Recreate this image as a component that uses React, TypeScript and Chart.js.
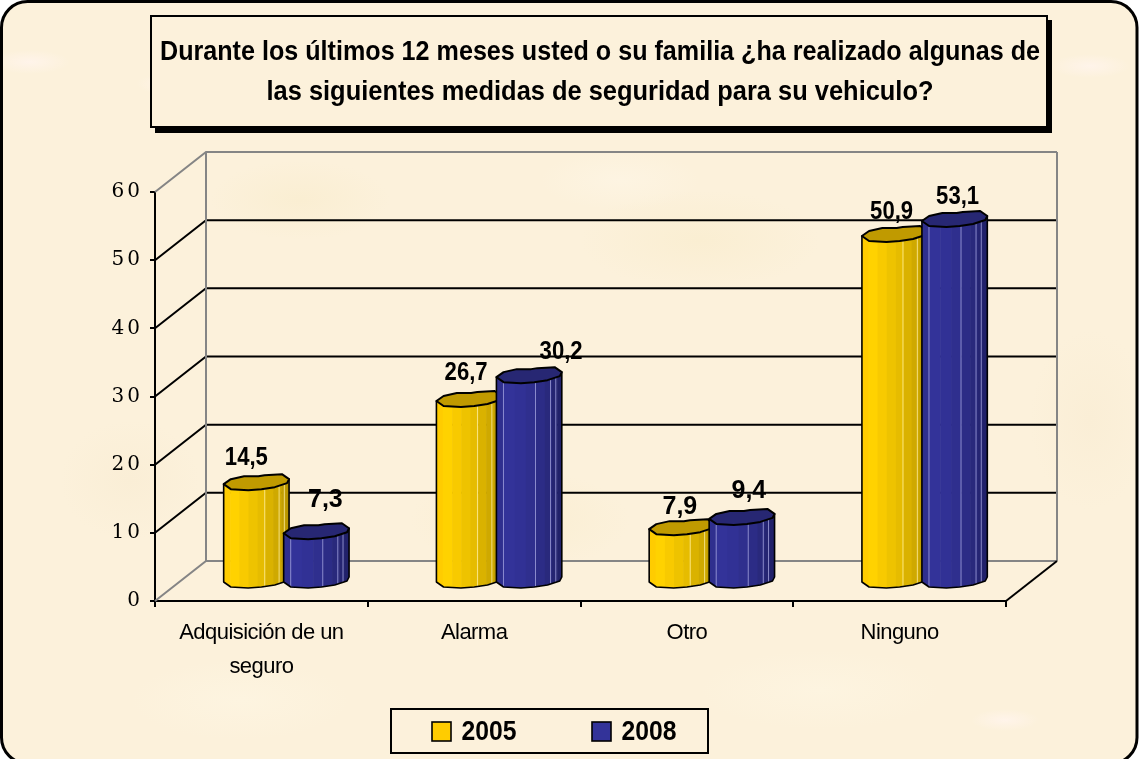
import React, { useEffect, useRef } from "react";
import { Chart, registerables } from "chart.js";

Chart.register(...registerables);

const categories = [["Adquisición de un", "seguro"], "Alarma", "Otro", "Ninguno"];
const seriesNames = ["2005", "2008"];
const values2005 = [14.5, 26.7, 7.9, 50.9];
const values2008 = [7.3, 30.2, 9.4, 53.1];
const seriesColors = ["#FFCC00", "#333399"];
const titleLines = [
  "Durante los últimos 12 meses usted o su familia ¿ha realizado algunas de",
  "las siguientes medidas de seguridad para su vehiculo?",
];

const SANS = '"Liberation Sans", Arial, sans-serif';
const DEPTH_X = 51;
const DEPTH_Y = 40;
const GREY = "#858585";

const stripes = [
  [[0, "#FFCC00"], [0.1, "#FFD200"], [0.24, "#F8CA00"], [0.38, "#EEC300"], [0.52, "#E6BC00"], [0.64, "#DAB200"], [0.76, "#CFA900"], [0.88, "#C29E00"], [0.95, "#B89500"]],
  [[0, "#2F2F8E"], [0.1, "#333399"], [0.28, "#313195"], [0.45, "#2F2F8E"], [0.6, "#2C2C86"], [0.74, "#29297C"], [0.85, "#252572"], [0.93, "#21216A"]],
] as [number, string][][];
const highlights = [
  [0.62, 0.84, 0.92],
  [0.1, 0.59, 0.82, 0.9],
];
const lidColors = ["#C09A00", "#272773"];
const lidBack = [[-25, -3], [-12, -6], [2, -6], [8, -7], [25, -8], [32, -3]];
const rimFront = [[32, -3], [30, 1], [18, 5], [5, 7], [-8, 8], [-25, 7], [-32, 2]];
const labelNudges = [
  [[-10, -24], [-3, -26], [-2, -20], [-3, -22]],
  [[9, -31], [32, -23], [7, -26], [3, -22]],
];
const blotches = [
  [30, 62, 40, 12, "#FFF4EA"], [172, 84, 36, 11, "#FFF4EA"], [1090, 66, 40, 12, "#FFF4EA"],
  [1005, 720, 34, 11, "#FFF4EA"], [300, 200, 90, 40, "#FAEED2"], [700, 240, 120, 50, "#FAEED2"],
  [520, 520, 110, 50, "#FAEED2"], [130, 480, 70, 60, "#FAEED6"], [1090, 420, 60, 90, "#FAEED6"],
  [820, 690, 120, 40, "#FDF4E0"], [240, 700, 110, 40, "#FDF4E0"], [620, 180, 80, 30, "#FDF4E2"],
] as [number, number, number, number, string][];

function fittedText(ctx: any, text: string, cx: number, cy: number, font: string, width: number) {
  ctx.font = font;
  ctx.fillStyle = "#000";
  ctx.textAlign = "center";
  ctx.textBaseline = "middle";
  ctx.fillText(text, cx, cy, width);
}

function line(ctx: any, pts: number[][], color: string, w = 2) {
  ctx.beginPath();
  pts.forEach((p, i) => (i ? ctx.lineTo(p[0], p[1]) : ctx.moveTo(p[0], p[1])));
  ctx.strokeStyle = color;
  ctx.lineWidth = w;
  ctx.stroke();
}

function drawCylinder(ctx: any, el: any, series: number) {
  const k = (el.width * 1.09) / 2 / 32;
  const cx = el.x + DEPTH_X * 0.49;
  const top = el.y - DEPTH_Y / 2;
  const bottom = el.base - DEPTH_Y / 2;
  const at = (p: number[], y: number) => [cx + p[0] * k, y + p[1]];

  ctx.save();
  const a = at([-32, 2], top);
  const b = at([-32, 2], bottom);
  const c = at([32, -3], top);
  const body = new Path2D();
  body.moveTo(a[0], a[1]);
  body.lineTo(b[0], b[1]);
  [...rimFront].reverse().forEach((p) => {
    const q = at(p, bottom);
    body.lineTo(q[0], q[1]);
  });
  body.lineTo(c[0], c[1]);
  body.closePath();
  ctx.save();
  ctx.clip(body);
  const left = cx - 32 * k;
  const full = 64 * k;
  stripes[series].forEach(([f, col], i) => {
    const next = i + 1 < stripes[series].length ? stripes[series][i + 1][0] : 1;
    ctx.fillStyle = col;
    ctx.fillRect(left + f * full, top - 12, (next - f) * full + 0.6, bottom - top + 30);
  });
  ctx.fillStyle = series ? "rgba(170,170,225,0.75)" : "rgba(255,240,170,0.75)";
  highlights[series].forEach((f) => ctx.fillRect(left + f * full, top - 12, 1, bottom - top + 30));
  ctx.restore();
  ctx.lineJoin = "round";
  ctx.strokeStyle = "#000";
  ctx.lineWidth = 1.6;
  ctx.stroke(body);

  ctx.beginPath();
  const first = at([-32, 2], top);
  ctx.moveTo(first[0], first[1]);
  [...lidBack, ...rimFront].forEach((p) => {
    const q = at(p, top);
    ctx.lineTo(q[0], q[1]);
  });
  ctx.closePath();
  ctx.fillStyle = lidColors[series];
  ctx.fill();
  ctx.lineWidth = 2;
  ctx.stroke();
  ctx.restore();
}

function spaceLabels(ctx: any, scale: any, spacing: string) {
  const original = scale.drawLabels;
  if (scale.__spaced) return;
  scale.__spaced = true;
  scale.drawLabels = function (area: any) {
    ctx.save();
    ctx.letterSpacing = spacing;
    original.call(scale, area);
    ctx.restore();
  };
}

const scenery = {
  id: "scenery",
  beforeDraw(chart: any) {
    const { ctx } = chart;
    spaceLabels(ctx, chart.scales.x, "-0.55px");
    spaceLabels(ctx, chart.scales.y, "3px");
    ctx.save();
    ctx.fillStyle = "#FFFFFF";
    ctx.fillRect(0, 0, 1139, 759);
    const frame = new Path2D();
    frame.roundRect(1.5, 1.5, 1135.5, 762, 26);
    ctx.save();
    ctx.clip(frame);
    ctx.fillStyle = "#FCF1DB";
    ctx.fillRect(0, 0, 1139, 759);
    blotches.forEach(([x, y, rx, ry, col]) => {
      ctx.save();
      ctx.translate(x, y);
      ctx.scale(rx, ry);
      const g = ctx.createRadialGradient(0, 0, 0, 0, 0, 1);
      g.addColorStop(0, col);
      g.addColorStop(1, col + "00");
      ctx.fillStyle = g;
      ctx.beginPath();
      ctx.arc(0, 0, 1, 0, Math.PI * 2);
      ctx.fill();
      ctx.restore();
    });
    ctx.restore();
    ctx.strokeStyle = "#000";
    ctx.lineWidth = 3;
    ctx.stroke(frame);

    ctx.fillStyle = "#000";
    ctx.fillRect(155, 20, 897, 113);
    ctx.fillStyle = "#FCF1DB";
    ctx.fillRect(151, 16, 896, 111);
    ctx.strokeStyle = "#000";
    ctx.lineWidth = 2;
    ctx.strokeRect(151, 16, 896, 111);
    fittedText(ctx, titleLines[0], 600, 53, `bold 27px ${SANS}`, 880);
    fittedText(ctx, titleLines[1], 600, 93, `bold 27px ${SANS}`, 667);

    ctx.strokeRect(391, 709, 317, 44);
    [0, 1].forEach((i) => {
      const ds = chart.data.datasets[i];
      const x = 432 + i * 160;
      ctx.fillStyle = ds.backgroundColor;
      ctx.fillRect(x, 722, 19, 19);
      ctx.strokeStyle = "#000";
      ctx.lineWidth = 1.6;
      ctx.strokeRect(x, 722, 19, 19);
      fittedText(ctx, ds.label, x + 57, 732, `bold 28px ${SANS}`, 55);
    });
    ctx.restore();
  },
  beforeDatasetsDraw(chart: any) {
    const { ctx, chartArea: area, scales } = chart;
    const yS = scales.y;
    const backL = area.left + DEPTH_X;
    const backR = area.right + DEPTH_X;
    ctx.save();
    yS.ticks.forEach((t: any) => {
      const y = yS.getPixelForValue(t.value);
      const edge = t.value === 0 || t.value === yS.max;
      const col = edge ? GREY : "#000";
      line(ctx, [[area.left, y], [backL, y - DEPTH_Y], [backR, y - DEPTH_Y]], col);
    });
    line(ctx, [[backL, area.top - DEPTH_Y], [backL, area.bottom - DEPTH_Y]], GREY);
    line(ctx, [[backR, area.top - DEPTH_Y], [backR, area.bottom - DEPTH_Y]], GREY);
    line(ctx, [[area.right, area.bottom], [backR, area.bottom - DEPTH_Y]], "#000");
    ctx.restore();
  },
  beforeDatasetDraw(chart: any, args: any) {
    // Chart.js paints the last series first; the 2008 cylinders must lie over the 2005 ones.
    if (args.index === 0) {
      [0, 1].forEach((s) =>
        chart.getDatasetMeta(s).data.forEach((el: any) => drawCylinder(chart.ctx, el, s)),
      );
    }
    return false;
  },
  afterDatasetsDraw(chart: any) {
    const { ctx } = chart;
    ctx.save();
    chart.data.datasets.forEach((ds: any, s: number) => {
      chart.getDatasetMeta(s).data.forEach((el: any, i: number) => {
        const n = labelNudges[s][i];
        const text = String(ds.data[i]).replace(".", ",");
        fittedText(ctx, text, el.x + DEPTH_X * 0.49 + n[0], el.y - DEPTH_Y / 2 + n[1], `bold 25px ${SANS}`, 43);
      });
    });
    ctx.restore();
  },
};

export default function App() {
  const ref = useRef<HTMLCanvasElement>(null);
  useEffect(() => {
    const chart = new Chart(ref.current as any, {
      type: "bar",
      data: {
        labels: categories as any,
        datasets: [
          { label: seriesNames[0], data: values2005, backgroundColor: seriesColors[0] },
          { label: seriesNames[1], data: values2008, backgroundColor: seriesColors[1] },
        ],
      },
      options: {
        animation: false,
        responsive: false,
        layout: { padding: { left: 0, top: 192, right: 133, bottom: 20 } },
        datasets: { bar: { categoryPercentage: 0.564, barPercentage: 1 } },
        plugins: { legend: { display: false }, title: { display: false }, tooltip: { enabled: false } },
        scales: {
          x: {
            grid: { display: true, drawOnChartArea: false, color: "#000", tickLength: 6, lineWidth: 2 },
            border: { color: "#000", width: 2 },
            ticks: {
              color: "#000",
              maxRotation: 0,
              autoSkip: false,
              padding: 9,
              font: { family: SANS, size: 22, lineHeight: 1.55 },
            },
            afterFit(s: any) { s.height = 138; },
          },
          y: {
            min: 0,
            max: 60,
            grid: { drawOnChartArea: false, color: "#000", tickLength: 5, lineWidth: 2 },
            border: { color: "#000", width: 2 },
            ticks: {
              stepSize: 10,
              color: "#000",
              padding: 7,
              font: { family: '"DejaVu Serif", serif', size: 20 },
            },
            afterFit(s: any) { s.width = 155; },
          },
        },
      },
      plugins: [scenery],
    } as any);
    return () => chart.destroy();
  }, []);
  return (
    <div style={{ position: "absolute", left: 0, top: 0, width: 1139, height: 759 }}>
      <canvas ref={ref} width={1139} height={759} style={{ display: "block" }} />
    </div>
  );
}
